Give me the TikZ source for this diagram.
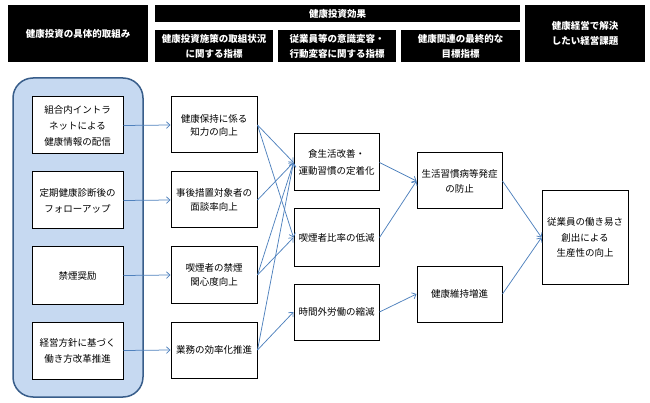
\documentclass[tikz,border=0pt]{standalone}
\usepackage{fontspec}
\setmainfont{Noto Sans CJK JP}
\usetikzlibrary{arrows.meta}
\definecolor{linkblue}{HTML}{4F81BD}
\definecolor{panelfill}{HTML}{C6D9F1}
\definecolor{paneldraw}{HTML}{385D8A}
\tikzset{
  hdr/.style={fill=black, draw=none, text=white, align=center, inner sep=0pt,
    font=\fontsize{9.5}{15}\selectfont\bfseries},
  box/.style={draw=black, line width=1pt, fill=white, align=center, inner sep=0pt,
    font=\fontsize{9.5}{15}\selectfont},
  link/.style={draw=linkblue, line width=0.75pt, -{Straight Barb[length=3.5pt,width=6.5pt]}},
}
\begin{document}
\begin{tikzpicture}[x=1pt,y=-1pt]
\useasboundingbox (0,0) rectangle (650,403);
% headers
\node[hdr, minimum width=140, minimum height=57] (h1) at (78,33.5) {健康投資の具体的取組み};
\node[hdr, minimum width=365, minimum height=17] (hb) at (337.5,13.5) {健康投資効果};
\node[hdr, minimum width=118, minimum height=32] (ha) at (214,46) {健康投資施策の取組状況\\に関する指標};
\node[hdr, minimum width=118, minimum height=32] (hm) at (337,46) {従業員等の意識変容・\\行動変容に関する指標};
\node[hdr, minimum width=119, minimum height=32] (hc) at (460.5,46) {健康関連の最終的な\\目標指標};
\node[hdr, minimum width=120, minimum height=57] (hr) at (585,33.5) {健康経営で解決\\したい経営課題};
% left panel
\node[draw=paneldraw, fill=panelfill, line width=1.5pt, rounded corners=20pt,
  minimum width=130, minimum height=319, inner sep=0pt] (panel) at (78,237.5) {};
% column 1
\node[box, minimum width=91, minimum height=57, font=\fontsize{9.5}{16}\selectfont] (a1) at (77.5,125.5) {組合内イントラ\\ネットによる\\健康情報の配信};
\node[box, minimum width=91, minimum height=57, font=\fontsize{9.5}{16}\selectfont] (a2) at (77.5,200.5) {定期健康診断後の\\フォローアップ};
\node[box, minimum width=91, minimum height=57] (a3) at (77.5,275.5) {禁煙奨励};
\node[box, minimum width=91, minimum height=57, font=\fontsize{9.5}{16}\selectfont] (a4) at (77.5,350.5) {経営方針に基づく\\働き方改革推進};
% column 2
\node[box, minimum width=86, minimum height=56, font=\fontsize{9.5}{13}\selectfont] (b1) at (214,125) {健康保持に係る\\知力の向上};
\node[box, minimum width=86, minimum height=56, font=\fontsize{9.5}{13.5}\selectfont] (b2) at (214,200) {事後措置対象者の\\面談率向上};
\node[box, minimum width=86, minimum height=56, font=\fontsize{9.5}{13.5}\selectfont] (b3) at (214,275) {喫煙者の禁煙\\関心度向上};
\node[box, minimum width=86, minimum height=56] (b4) at (214,350) {業務の効率化推進};
% column 3
\node[box, minimum width=85, minimum height=57, font=\fontsize{9.5}{16.5}\selectfont] (c1) at (336.5,162.5) {食生活改善・\\運動習慣の定着化};
\node[box, minimum width=85, minimum height=57] (c2) at (336.5,237.5) {喫煙者比率の低減};
\node[box, minimum width=85, minimum height=56] (c3) at (336.5,312) {時間外労働の縮減};
% column 4
\node[box, minimum width=85, minimum height=56] (d1) at (459.5,181) {生活習慣病等発症\\の防止};
\node[box, minimum width=85, minimum height=56] (d2) at (459.5,294) {健康維持増進};
% column 5
\node[box, minimum width=86, minimum height=93, font=\fontsize{9.5}{15.5}\selectfont] (e1) at (585,237.5) {従業員の働き易さ\\創出による\\生産性の向上};
% connectors
\draw[link] (a1.east) -- (b1.west);
\draw[link] (a2.east) -- (b2.west);
\draw[link] (a3.east) -- (b3.west);
\draw[link] (a4.east) -- (b4.west);
\draw[link] (b1.east) -- (c1.west);
\draw[link] (b1.east) -- (c2.west);
\draw[link] (b2.east) -- (c1.west);
\draw[link] (b3.east) -- (c1.west);
\draw[link] (b3.east) -- (c2.west);
\draw[link] (b4.east) -- (c1.west);
\draw[link] (b4.east) -- (c3.west);
\draw[link] (c1.east) -- (d1.west);
\draw[link] (c2.east) -- (d1.west);
\draw[link] (c3.east) -- (d2.west);
\draw[link] (d1.east) -- (e1.west);
\draw[link] (d2.east) -- (e1.west);
\end{tikzpicture}
\end{document}
